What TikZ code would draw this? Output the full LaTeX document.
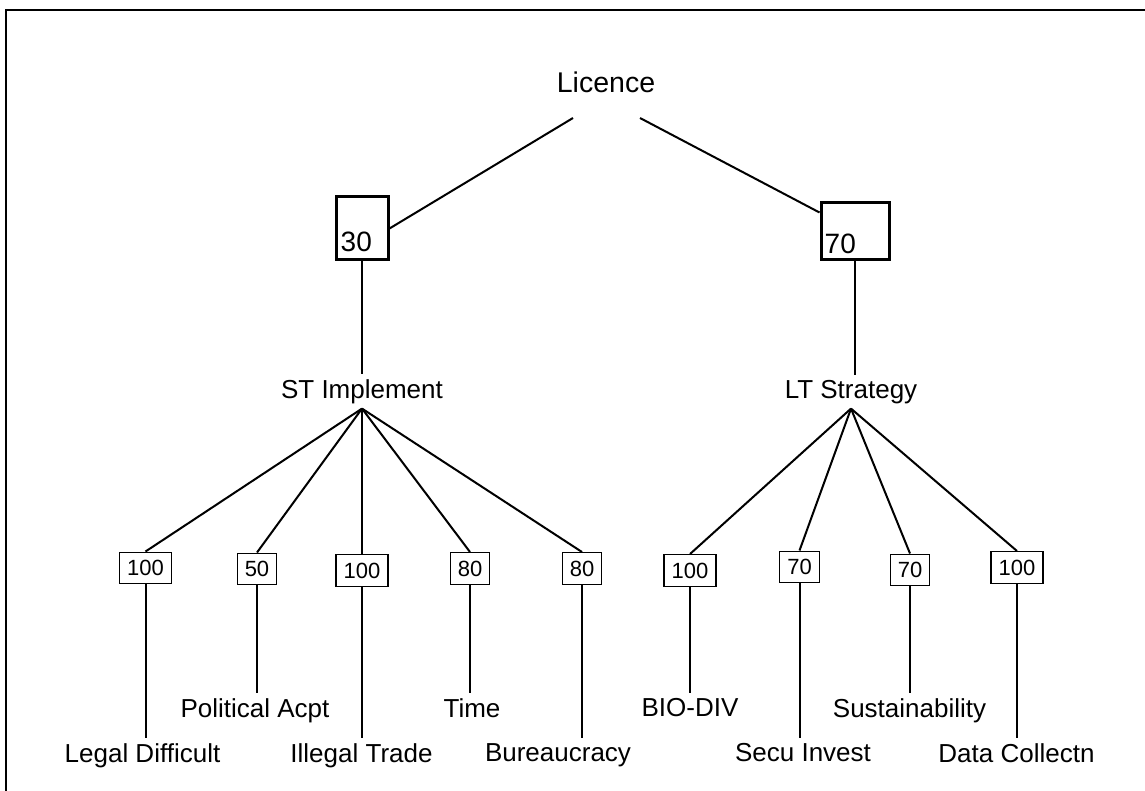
\documentclass[tikz,border=0pt]{standalone}
\usepackage{fontspec}
\setmainfont{Liberation Sans}
\usetikzlibrary{positioning}

\begin{document}
\begin{tikzpicture}[x=1pt,y=-1pt,
    lbl/.style={font=\fontsize{26}{30}\selectfont, inner sep=5pt},
    numbox/.style={draw, line width=1.4pt, font=\fontsize{22}{25}\selectfont, inner xsep=7.5pt, inner ysep=8pt},
    bigbox/.style={draw, line width=3pt},
    bignum/.style={font=\fontsize{28}{32}\selectfont, inner sep=0pt},
    link/.style={line width=2pt}]
    \useasboundingbox (0,0) rectangle (1145,791);
    \draw[line width=1.8pt] (6,791) -- (6,10) -- (1145,10);

    % root and the two weights
    \node[font=\fontsize{28.5}{32}\selectfont, inner ysep=25pt, anchor=south] (licence) at (606,118) {Licence};
    \node[bigbox, minimum width=52pt, minimum height=63pt] (w30) at (362,228.5) {};
    \node[bignum, anchor=south west] (n30) at ([shift={(6pt,10pt)}]w30.south west) {30};
    \node[bigbox, minimum width=68pt, minimum height=57pt] (w70) at (855,231.5) {};
    \node[bignum, anchor=south west] (n70) at ([shift={(5pt,8pt)}]w70.south west) {70};
    \draw[link] ([xshift=-33pt]licence.south) -- (w30.east);
    \draw[link] ([xshift=34pt]licence.south) -- ([yshift=-11pt]w70.north west);

    % criteria
    \node[lbl, anchor=base] (st) at (362,398) {ST Implement};
    \node[lbl, anchor=base] (lt) at (851,398) {LT Strategy};
    \draw[link] (w30.south) -- (w30.south |- st.north);
    \draw[link] (w70.south) -- (w70.south |- lt.north);

    % sub-criteria weights
    \node[numbox] (a1) at (145.5,568) {100};
    \node[numbox] (a2) at (257,569) {50};
    \node[numbox] (a3) at (362,570.5) {100};
    \node[numbox] (a4) at (470,568.5) {80};
    \node[numbox] (a5) at (582,568.5) {80};
    \node[numbox] (b1) at (690,570.5) {100};
    \node[numbox] (b2) at (799.5,567) {70};
    \node[numbox] (b3) at (910,570) {70};
    \node[numbox] (b4) at (1017,567.5) {100};
    \draw[link] (st.south) -- (a1.north);
    \draw[link] (st.south) -- (a2.north);
    \draw[link] (st.south) -- (a3.north);
    \draw[link] (st.south) -- (a4.north);
    \draw[link] (st.south) -- (a5.north);
    \draw[link] (lt.south) -- (b1.north);
    \draw[link] (lt.south) -- (b2.north);
    \draw[link] (lt.south) -- (b3.north);
    \draw[link] (lt.south) -- (b4.north);

    % sub-criteria
    \node[lbl, anchor=north] (legal) at (142.5,738) {Legal Difficult};
    \node[lbl, anchor=north] (polit) at (255,693) {Political Acpt};
    \node[lbl, anchor=north] (trade) at (361.5,738) {Illegal Trade};
    \node[lbl, anchor=north] (time) at (472,693) {Time};
    \node[lbl, anchor=north] (bureau) at (558,738) {Bureaucracy};
    \node[lbl, anchor=north] (biodiv) at (690,693) {BIO-DIV};
    \node[lbl, anchor=north] (secu) at (803,738) {Secu Invest};
    \node[lbl, anchor=north] (sustain) at (909.5,693) {Sustainability};
    \node[lbl, anchor=north] (data) at (1016.5,738) {Data Collectn};
    \draw[link] (a1.south) -- (a1.south |- legal.north);
    \draw[link] (a2.south) -- (a2.south |- polit.north);
    \draw[link] (a3.south) -- (a3.south |- trade.north);
    \draw[link] (a4.south) -- (a4.south |- time.north);
    \draw[link] (a5.south) -- (a5.south |- bureau.north);
    \draw[link] (b1.south) -- (b1.south |- biodiv.north);
    \draw[link] (b2.south) -- (b2.south |- secu.north);
    \draw[link] (b3.south) -- (b3.south |- sustain.north);
    \draw[link] (b4.south) -- (b4.south |- data.north);
\end{tikzpicture}
\end{document}
